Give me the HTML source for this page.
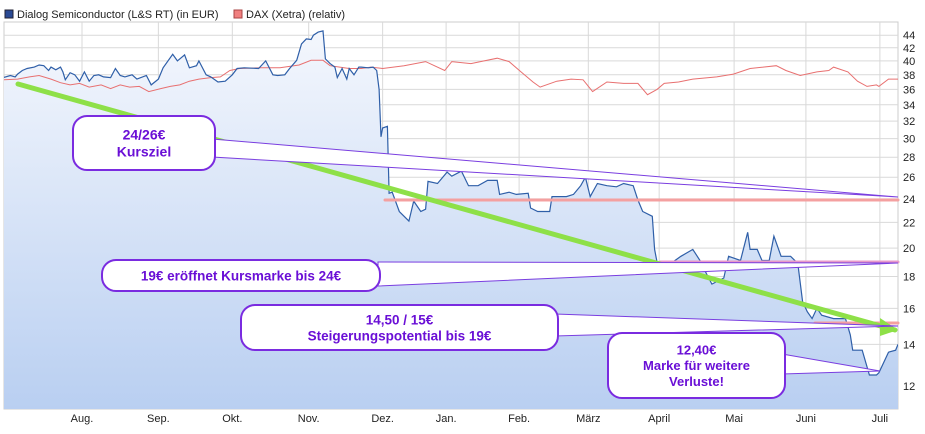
<!DOCTYPE html>
<html><head><meta charset="utf-8"><style>
html,body{margin:0;padding:0;background:#fff;}
body{width:925px;height:429px;overflow:hidden;font-family:"Liberation Sans",sans-serif;}
</style></head><body>
<svg id="chart" width="925" height="429" xmlns="http://www.w3.org/2000/svg" font-family="Liberation Sans, sans-serif">
<defs>
<linearGradient id="fillg" x1="0" y1="0" x2="0" y2="1">
<stop offset="0" stop-color="#f4f7fd"/><stop offset="1" stop-color="#b9cff1"/>
</linearGradient>
<clipPath id="plotclip"><rect x="4" y="22" width="894" height="387"/></clipPath>
</defs>
<g>
<rect x="5" y="10" width="8" height="8" fill="#2a4a94" stroke="#223"/>
<text x="17" y="18" font-size="11" fill="#222">Dialog Semiconductor (L&amp;S RT) (in EUR)</text>
<rect x="234" y="10" width="8" height="8" fill="#f08080" stroke="#a44"/>
<text x="246" y="18" font-size="11" fill="#222">DAX (Xetra) (relativ)</text>
</g>
<rect x="4" y="22" width="894" height="387" fill="#fff" stroke="#ccc"/>
<g id="grid"></g>
<g id="series" clip-path="url(#plotclip)"></g>
<g id="axes"></g>
<g id="annot"></g>
</svg>
<script>
const yTicks=[12,14,16,18,20,22,24,26,28,30,32,34,36,38,40,42,44];
const monthLabels=["Aug.","Sep.","Okt.","Nov.","Dez.","Jan.","Feb.","März","April","Mai","Juni","Juli"];
const monthDays=[0,32,63,95,126,152.6,183.2,212.2,241.9,273.3,303.4,334.4];
const dialogDays=[-33,-30,-28,-27,-25,-23,-20,-18,-16,-14,-13,-11,-9,-8,-7,-5,-3,-1,1,3,5,7,9,12,14,16,18,21,23,27,29,32,34,38,40,43,45,48,49,52,54,57,60,63,65,68,74,77,80,82,85,87,90,92,94,96,97,99,101,102,104,106,107,109,111,112,114,116,117,120,122,123.5,124.5,125.3,126,128,128.7,130,133,137,139,142,144,145,149,153,155,159,162,166,170,174,175,179,182,187,188,191,196,197,203,206,209,211,213,216,220,224,227,231,233,235,239,240,241,246,251,256,259,262,264,269,271,276,279,280,283,285,288,290,293,297,300,302,304,306,308,310,315,320,322,323,327,330,333,334,338,341,342];
const dialogValues=[37.6,37.9,37.7,38.1,38.6,38.9,39.1,39.4,39.3,38.6,39.1,38.7,39.1,38.4,37.3,38.3,38,37.1,38.4,37.1,37.9,38,37.7,37.6,38.9,37.9,37.7,38,37.4,37.9,36.6,37.4,39,41,40,40.9,39,39.3,40,38,37.7,37,37.1,38,38.9,39,38.9,40,38,37.9,38,38.9,40.1,42.6,43.4,43.3,44,44.5,44.7,40.3,39.6,39.1,37.6,38.9,37.4,38.9,38,39.1,39.1,39,39.1,38.6,36,30.2,31.2,31.4,24.5,24.6,22.9,22.1,23.8,22.9,23.1,25.6,25.4,26.5,26.1,26.6,25.2,25.2,25.7,25.7,24.4,24.6,24.4,24.5,23.2,22.9,22.9,24.2,24.2,24.4,25.2,26,24.2,25.4,25.2,25.1,25.4,25.2,23.9,22.9,22.5,19.9,19,18.8,19.4,19.9,19.1,18.1,17.5,17.9,19.4,19.1,21.2,19.9,19.9,19.1,19.1,20.9,19.4,19.4,18.9,16.4,15.8,15.4,16,15.6,15.4,15.4,14.5,13.7,13.7,12.5,12.5,12.6,13.6,13.7,14];
const daxDays=[-33,-27,-22,-18,-13,-9,-5,-1,3,8,12,16,20,24,28,33,37,41,45,49,54,58,62,66,75,83,91,96,101,104,108,112,117,121,126,135,144,152,155,163,167,174,179,184,189,192,199,205,210,214,220,227,233,237,241,244,250,256,266,273,280,291,295,301,308,313,315,321,325,329,333,334,338,342];
const daxValues=[37.3,37.4,37.7,37.9,37.4,36.9,36.6,36.8,36.3,36.6,36.1,36.6,36.3,36.4,35.7,36.1,36.4,36.6,37.1,37.4,37.6,37.7,38.6,38.9,39,39,39.4,40.1,40.1,39.3,39.1,38.9,38.9,39.1,38.9,39.3,39.9,38.6,39.9,39.6,39.9,40.4,39.9,38.4,37,36.3,37.1,37.4,37.3,35.7,37,36.8,36.8,35.3,36,36.8,37,37.4,37.7,38.1,38.9,39.3,38.6,37.9,38.4,38.6,39.1,38.4,37.1,36.4,36.6,36.4,37.4,37.4];

const NS="http://www.w3.org/2000/svg";
const xS=d=>82+d*2.386;
const yS=v=>386-270*Math.log(v/12);
function mk(tag,attrs,parent){const e=document.createElementNS(NS,tag);for(const k in attrs)e.setAttribute(k,attrs[k]);parent.appendChild(e);return e;}
const grid=document.getElementById('grid'),series=document.getElementById('series'),axes=document.getElementById('axes'),annot=document.getElementById('annot');

yTicks.forEach(v=>{
 const y=yS(v);
 const l=mk('line',{x1:4,x2:898,y1:y,y2:y,stroke:'#d9d9d9','stroke-width':1},grid);
 
 
 const t=mk('text',{x:903,y:y+4,'font-size':11,fill:'#222'},axes);
 
 
 t.textContent=v;
});
monthLabels.forEach((m,i)=>{
 const x=xS(monthDays[i]);
 const l=mk('line',{x1:x,x2:x,y1:22,y2:409,stroke:'#d9d9d9','stroke-width':1},grid);
 
 
 const t=mk('text',{x:x,y:422,'font-size':11,fill:'#222','text-anchor':'middle'},axes);
 
 
 t.textContent=m;
});

let dPath=dialogDays.map((d,i)=>(i?'L':'M')+xS(d).toFixed(1)+','+yS(dialogValues[i]).toFixed(1)).join(' ');
const area=mk('path',{d:dPath+` L${xS(dialogDays[dialogDays.length-1])},409 L${xS(dialogDays[0])},409 Z`,fill:'url(#fillg)'},series);


const dax=mk('path',{d:daxDays.map((d,i)=>(i?'L':'M')+xS(d).toFixed(1)+','+yS(daxValues[i]).toFixed(1)).join(' '),fill:'none',stroke:'#e87070','stroke-width':1},series);


const dl=mk('path',{d:dPath,fill:'none',stroke:'#2f5fa8','stroke-width':1.2},series);



function line(x1,y1,x2,y2,c,w,name){const l=mk('line',{x1,y1,x2,y2,stroke:c,'stroke-width':w,'stroke-linecap':'round'},annot);return l;}
line(385,200,898,200,'#f4a0a0',3,'support-line-24');
line(660,262,898,262,'#e89ac8',3,'support-line-19');
line(815,323,898,323,'#f4a0a0',3,'support-line-15');
line(18,84,895,330,'#8ee048',5,'trend-line');
const ah=mk('polygon',{points:'880,318 898,330 880,336',fill:'#8ee048'},annot);



function callout(box,tail,lines,name,fs){
 const g=mk('g',{},annot);
 
 
 const [x,y,w,h]=box;
 mk('polygon',{points:`${tail[0]},${tail[1]} ${tail[4]},${tail[5]} ${tail[2]},${tail[3]}`,fill:'#fff',stroke:'#7a3ee0','stroke-width':1},g);
 mk('rect',{x,y,width:w,height:h,rx:14,fill:'#fff',stroke:'#7a2be0','stroke-width':2},g);
 const cy=y+h/2-(lines.length-1)*fs*0.6+fs*0.36;
 lines.forEach((s,i)=>{const t=mk('text',{x:x+w/2,y:cy+i*fs*1.2,'font-size':fs,'font-weight':'bold',fill:'#6a0fd6','text-anchor':'middle'},g);t.textContent=s;});
}
callout([73,116,142,54],[212,139,212,157,898,197],["24/26€","Kursziel"],'callout-kursziel',14);
callout([102,260,278,31],[378,262,378,286,898,263],["19€ eröffnet Kursmarke bis 24€"],'callout-19',13.5);
callout([241,305,317,45],[555,314,555,336,898,326],["14,50 / 15€","Steigerungspotential bis 19€"],'callout-14-50',13.5);
callout([608,333,177,65],[782,354,782,374,880,371],["12,40€","Marke für weitere","Verluste!"],'callout-12-40',13);
</script>
</body></html>
